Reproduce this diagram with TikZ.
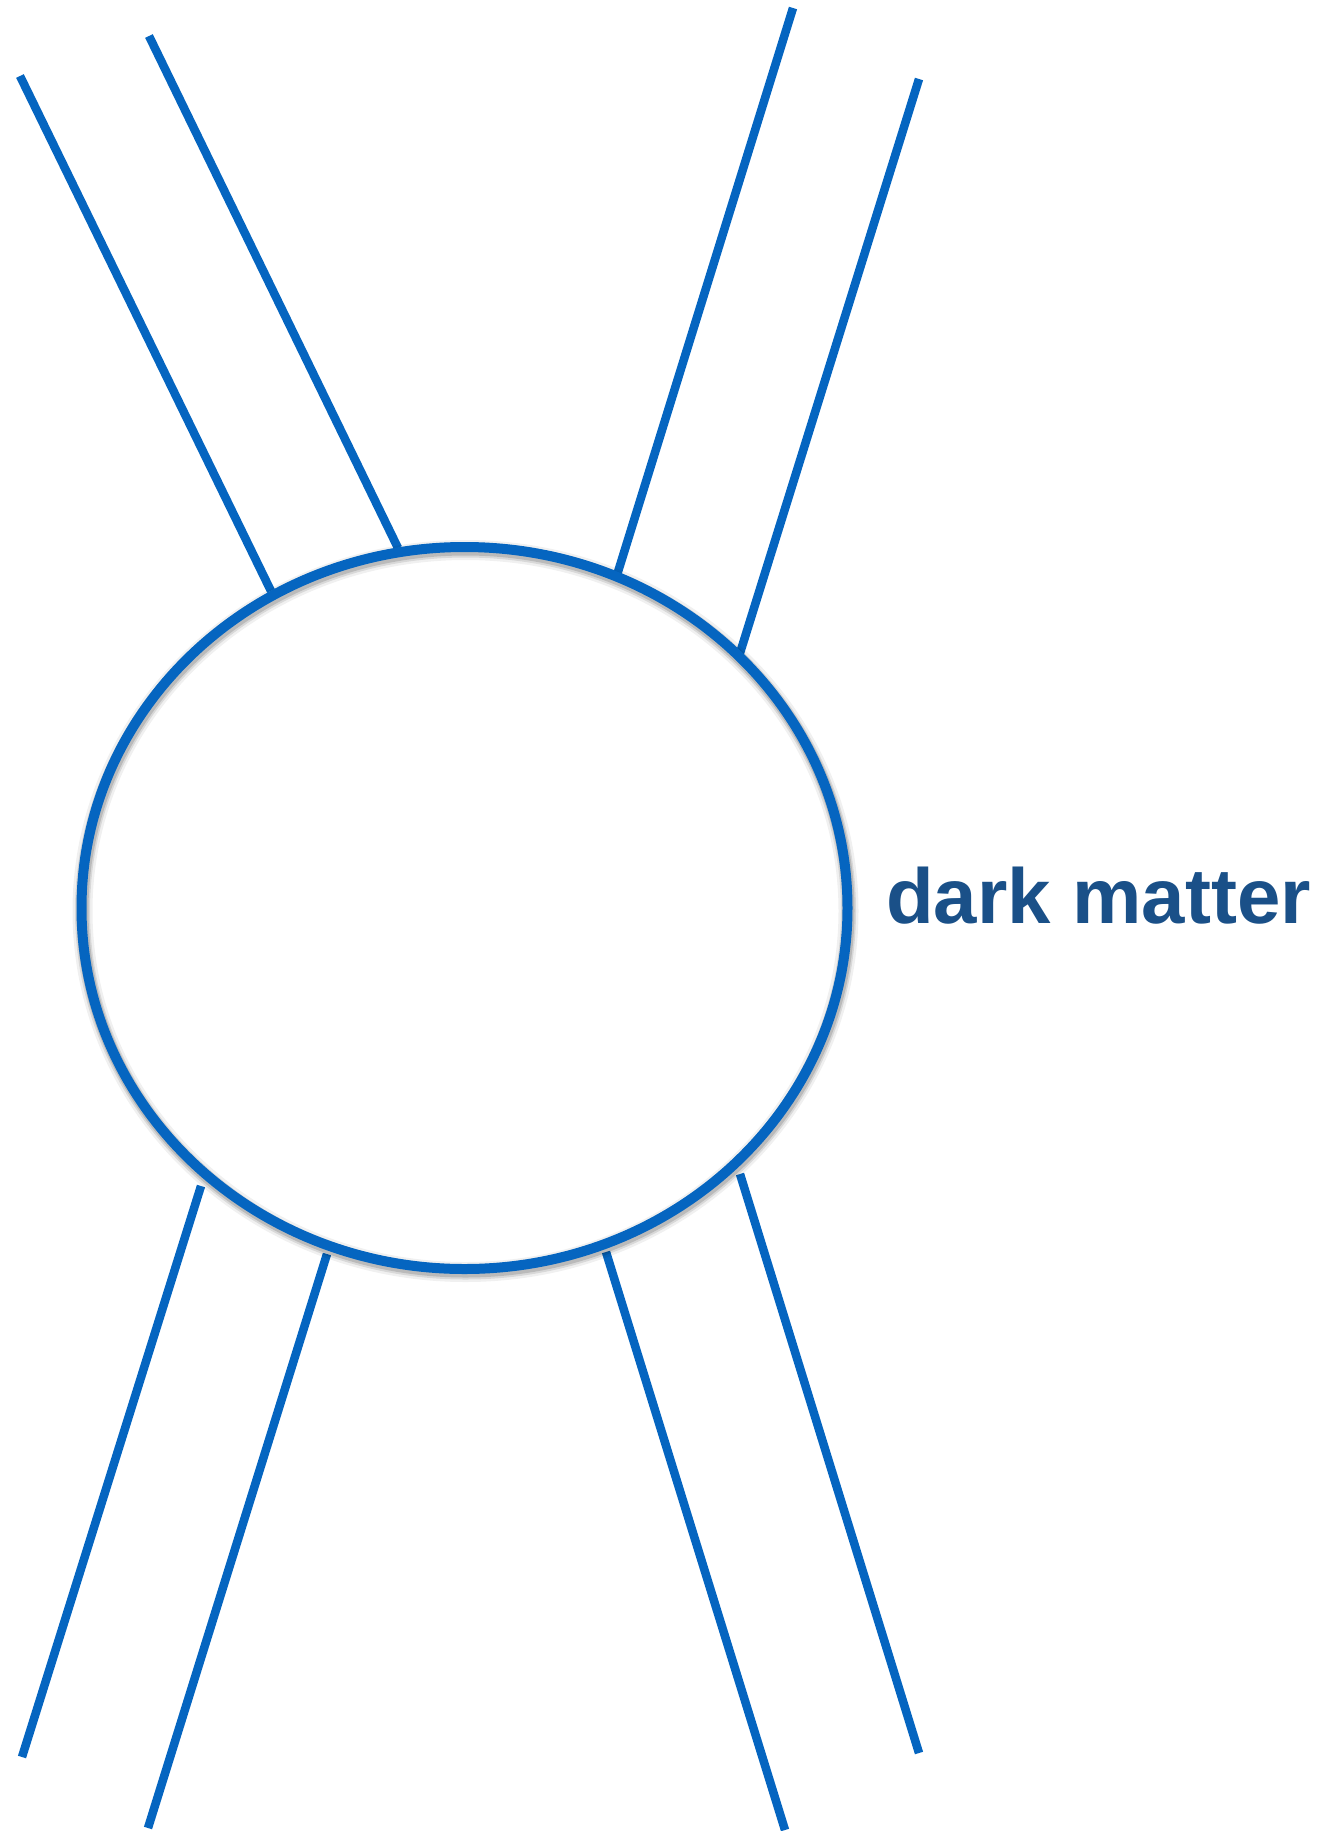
\documentclass[tikz,border=0pt]{standalone}
\usepackage{fontspec}
\setmainfont{Liberation Sans}
\usetikzlibrary{shapes.geometric}
\definecolor{lineblue}{RGB}{5,101,192}
\definecolor{textblue}{RGB}{26,80,136}
\tikzset{
  leg/.style={draw=lineblue, line width=8.5pt, line cap=butt},
  blob/.style={ellipse, draw=lineblue, line width=10pt, inner sep=0pt,
    minimum width=766pt, minimum height=722pt},
  shade/.style={ellipse, draw=black, inner sep=0pt,
    minimum width=766pt, minimum height=722pt},
  lbl/.style={text=textblue, font=\fontsize{78}{90}\selectfont\bfseries, inner sep=0pt, anchor=base west}
}
\begin{document}
\begin{tikzpicture}[x=1pt,y=-1pt]
\useasboundingbox (0,0) rectangle (1319,1831);
% legs
\coordinate (a1) at (20,76);   \coordinate (a2) at (271,591);
\coordinate (b1) at (149,36);  \coordinate (b2) at (398,548);
\coordinate (c1) at (793,8);   \coordinate (c2) at (617,575);
\coordinate (d1) at (919,79);  \coordinate (d2) at (740,653);
\coordinate (e1) at (201,1186); \coordinate (e2) at (22,1757);
\coordinate (f1) at (327,1254); \coordinate (f2) at (148,1828);
\coordinate (g1) at (606,1252); \coordinate (g2) at (785,1830);
\coordinate (h1) at (740,1174); \coordinate (h2) at (919,1753);
\draw[leg] (a1) -- (a2);
\draw[leg] (b1) -- (b2);
\draw[leg] (c1) -- (c2);
\draw[leg] (d1) -- (d2);
\draw[leg] (e1) -- (e2);
\draw[leg] (f1) -- (f2);
\draw[leg] (g1) -- (g2);
\draw[leg] (h1) -- (h2);
% circle with soft shadow
\node[shade, line width=20pt, draw opacity=0.06] (sh1) at (465.5,911) {};
\node[shade, line width=15pt, draw opacity=0.10] (sh2) at (465.5,911) {};
\node[shade, line width=12pt, draw opacity=0.14] (sh3) at (465.5,910.5) {};
\node[blob] (dm) at (464.5,908) {};
\node[lbl] (txt) at (886,923) {dark matter};
\end{tikzpicture}
\end{document}
